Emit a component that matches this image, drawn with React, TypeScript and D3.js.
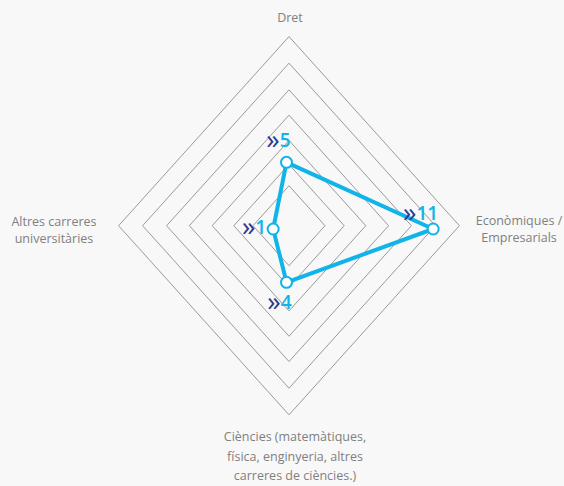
import React from 'react';
import * as d3 from 'd3';

// axes, clockwise from the top
const axisLabels: string[][] = [
    ['Dret'],
    ['Econòmiques /', 'Empresarials'],
    ['Ciències (matemàtiques,', 'física, enginyeria, altres', 'carreres de ciències.)'],
    ['Altres carreres', 'universitàries'],
];
const values = [5, 11, 4, 1];
const gridLevels = [1.5, 2.3, 3.2, 4.15, 5.1, 6.1, 7.1];

const W = 564, H = 486;
const gridCenter = {x: 289, y: 225.7};
const dataCenter = {x: 286.5, y: 229};
const ySquash = 1.11;
const cyan = '#10b4e9';
const navy = '#2b3990';

// unit direction for each axis (top, right, bottom, left)
const dirs = [[0, -1], [1, 0], [0, 1], [-1, 0]];

const labelPos = [
    {x: 290, y: 22, anchor: 'middle'},
    {x: 519, y: 225, anchor: 'middle'},
    {x: 295, y: 441, anchor: 'middle'},
    {x: 54, y: 226, anchor: 'middle'},
];
const lineGap = [0, 16.5, 19.5, 16.5];

// value label offsets from the marker
const valueOffset = [[4, -15], [5, -9], [5, 27], [-7, 5]];

export default function App() {
    const gridScale = d3.scaleLinear().domain([0, 1]).range([0, 24]);
    const rScale = d3.scaleLinear().domain([0, 12]).range([0, 160]);

    const closed = d3.line<[number, number]>().curve(d3.curveLinearClosed);

    const rings = gridLevels.map(level => {
        const r = gridScale(level);
        return closed(dirs.map(([dx, dy]) => [gridCenter.x + dx * r, gridCenter.y + dy * r * ySquash] as [number, number]));
    });

    const pts = values.map((v, i) => {
        const r = rScale(v);
        return [dataCenter.x + dirs[i][0] * r, dataCenter.y + dirs[i][1] * r] as [number, number];
    });

    return (
        <div style={{position: 'fixed', left: 0, top: 0}}>
            <svg width={W} height={H} style={{display: 'block'}} fontFamily="'Open Sans', 'Noto Sans', sans-serif">
                <rect width={W} height={H} fill="#f8f8f8"/>
                <g fill="none" stroke="#9a9a9a" strokeWidth={1}>
                    {rings.map((d, i) => <path key={i} d={d || ''}/>)}
                </g>
                {axisLabels.map((lines, i) => (
                    <text key={i} x={labelPos[i].x} y={labelPos[i].y} textAnchor={labelPos[i].anchor}
                        fontSize={12.5} fill="#808080">
                        {lines.map((l, j) => (
                            <tspan key={j} x={labelPos[i].x} dy={j === 0 ? 0 : lineGap[i]}>{l}</tspan>
                        ))}
                    </text>
                ))}
                <path d={closed(pts) || ''} fill="none" stroke={cyan} strokeWidth={4} strokeLinejoin="round"/>
                {pts.map((p, i) => (
                    <circle key={i} cx={p[0]} cy={p[1]} r={5.5} fill="#fff" stroke={cyan} strokeWidth={2}/>
                ))}
                {pts.map((p, i) => (
                    <text key={'v' + i} x={p[0] + valueOffset[i][0]} y={p[1] + valueOffset[i][1]}
                        textAnchor="end" fontSize={19} fill={cyan} fontWeight={600}>
                        <tspan fill={navy} fontSize={27} fontWeight={400} dy={2}>»</tspan>
                        <tspan dy={-2}>{values[i]}</tspan>
                    </text>
                ))}
            </svg>
        </div>
    );
}
